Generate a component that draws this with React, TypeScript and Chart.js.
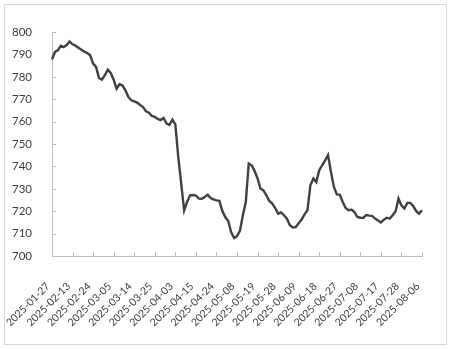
import React, { useEffect, useRef } from "react";
import { Chart, registerables } from "chart.js";

Chart.register(...registerables);

// Trading-day categories (x axis)
const dates: string[] = [
  "2025-01-27", "2025-02-05", "2025-02-06", "2025-02-07", "2025-02-10", "2025-02-11", "2025-02-12",
  "2025-02-13", "2025-02-14", "2025-02-17", "2025-02-18", "2025-02-19", "2025-02-20", "2025-02-21",
  "2025-02-24", "2025-02-25", "2025-02-26", "2025-02-27", "2025-02-28", "2025-03-03", "2025-03-04",
  "2025-03-05", "2025-03-06", "2025-03-07", "2025-03-10", "2025-03-11", "2025-03-12", "2025-03-13",
  "2025-03-14", "2025-03-17", "2025-03-18", "2025-03-19", "2025-03-20", "2025-03-21", "2025-03-24",
  "2025-03-25", "2025-03-26", "2025-03-27", "2025-03-28", "2025-03-31", "2025-04-01", "2025-04-02",
  "2025-04-03", "2025-04-07", "2025-04-08", "2025-04-09", "2025-04-10", "2025-04-11", "2025-04-14",
  "2025-04-15", "2025-04-16", "2025-04-17", "2025-04-18", "2025-04-21", "2025-04-22", "2025-04-23",
  "2025-04-24", "2025-04-25", "2025-04-28", "2025-04-29", "2025-04-30", "2025-05-06", "2025-05-07",
  "2025-05-08", "2025-05-09", "2025-05-12", "2025-05-13", "2025-05-14", "2025-05-15", "2025-05-16",
  "2025-05-19", "2025-05-20", "2025-05-21", "2025-05-22", "2025-05-23", "2025-05-26", "2025-05-27",
  "2025-05-28", "2025-05-29", "2025-05-30", "2025-06-03", "2025-06-04", "2025-06-05", "2025-06-06",
  "2025-06-09", "2025-06-10", "2025-06-11", "2025-06-12", "2025-06-13", "2025-06-16", "2025-06-17",
  "2025-06-18", "2025-06-19", "2025-06-20", "2025-06-23", "2025-06-24", "2025-06-25", "2025-06-26",
  "2025-06-27", "2025-06-30", "2025-07-01", "2025-07-02", "2025-07-03", "2025-07-04", "2025-07-07",
  "2025-07-08", "2025-07-09", "2025-07-10", "2025-07-11", "2025-07-14", "2025-07-15", "2025-07-16",
  "2025-07-17", "2025-07-18", "2025-07-21", "2025-07-22", "2025-07-23", "2025-07-24", "2025-07-25",
  "2025-07-28", "2025-07-29", "2025-07-30", "2025-07-31", "2025-08-01", "2025-08-04", "2025-08-05",
  "2025-08-06",
];

// Series values
const values: number[] = [
  787.8, 791.1, 791.8, 793.9, 793.3, 794.2, 795.8,
  794.5, 793.9, 793.0, 792.1, 791.2, 790.6, 789.6,
  785.9, 784.4, 779.5, 778.7, 780.7, 783.2, 781.7,
  778.7, 774.7, 776.7, 776.1, 774.0, 771.0, 769.5,
  769.0, 768.5, 767.4, 766.5, 764.6, 764.0, 762.5,
  762.1, 761.2, 760.7, 761.6, 759.1, 758.5, 760.9,
  758.8, 744.2, 732.3, 720.4, 724.1, 727.1, 727.2,
  727.0, 725.6, 725.5, 726.3, 727.4, 725.9, 725.3,
  724.8, 724.6, 720.1, 717.4, 715.6, 710.7, 708.0,
  708.9, 711.2, 718.2, 724.1, 741.3, 740.5, 737.9,
  734.6, 730.1, 729.3, 727.1, 724.6, 723.4, 721.4,
  718.9, 719.5, 718.2, 716.7, 713.7, 712.7, 712.9,
  714.6, 716.3, 718.6, 720.4, 731.6, 734.6, 733.0,
  738.3, 740.5, 742.7, 745.1, 737.5, 730.8, 727.5,
  727.4, 724.1, 721.4, 720.4, 720.7, 719.6, 717.4,
  717.1, 717.0, 718.3, 718.0, 717.9, 716.7, 715.9,
  715.0, 716.2, 717.1, 716.7, 718.2, 720.0, 725.6,
  722.6, 721.2, 723.7, 723.7, 722.3, 720.1, 718.9,
  720.4,
];

// Axis settings
const yMin = 700;
const yMax = 800;
const yStep = 10;
const labelEvery = 7;

const FONT = "Lato, 'Liberation Sans', sans-serif";
const TEXT = "#404040";
const AXIS = "#bfbfbf";

const insideTicks = {
  id: "insideTicks",
  beforeDatasetsDraw(chart: any) {
    const { ctx, chartArea, scales } = chart;
    const x = scales.x;
    const y = scales.y;
    ctx.save();
    ctx.strokeStyle = AXIS;
    ctx.lineWidth = 1;
    ctx.beginPath();
    y.ticks.forEach((t: any) => {
      const py = Math.round(y.getPixelForValue(t.value)) + 0.5;
      ctx.moveTo(chartArea.left, py);
      ctx.lineTo(chartArea.left + 4, py);
    });
    for (let i = 0; i < dates.length; i += labelEvery) {
      const px = Math.round(x.getPixelForValue(i)) + 0.5;
      ctx.moveTo(px, chartArea.bottom);
      ctx.lineTo(px, chartArea.bottom - 4);
    }
    ctx.stroke();
    ctx.restore();
  },
};

export default function App() {
  const canvasRef = useRef<HTMLCanvasElement | null>(null);

  useEffect(() => {
    if (!canvasRef.current) return;
    const chart = new Chart(canvasRef.current, {
      type: "line",
      data: {
        labels: dates,
        datasets: [
          {
            data: values,
            borderColor: "#404040",
            borderWidth: 2.4,
            pointRadius: 0,
            pointHoverRadius: 0,
            tension: 0,
            fill: false,
          },
        ],
      },
      options: {
        animation: false,
        responsive: false,
        maintainAspectRatio: false,
        layout: { padding: { left: 0, top: 32, right: 28, bottom: 0 } },
        plugins: {
          legend: { display: false },
          tooltip: { enabled: false },
        },
        scales: {
          x: {
            type: "category",
            offset: false,
            grid: { display: false },
            border: { display: true, color: AXIS, width: 1 },
            ticks: {
              autoSkip: false,
              minRotation: 45,
              maxRotation: 45,
              padding: 16,
              labelOffset: -4,
              color: TEXT,
              font: { family: FONT, size: 10.5 },
              callback: (_v: any, idx: number) => (idx % labelEvery === 0 ? dates[idx] : null),
            },
            afterFit: (scale: any) => {
              scale.height = 93;
              scale.paddingLeft = 0;
              scale.paddingRight = 0;
            },
          },
          y: {
            min: yMin,
            max: yMax,
            grid: { display: false },
            border: { display: true, color: AXIS, width: 1 },
            ticks: {
              stepSize: yStep,
              padding: 12,
              color: TEXT,
              font: { family: FONT, size: 11.5 },
            },
            afterFit: (scale: any) => {
              scale.width = 52;
            },
          },
        },
      },
      plugins: [insideTicks],
    });
    return () => chart.destroy();
  }, []);

  return (
    <div
      style={{
        position: "fixed",
        left: 0,
        top: 0,
        width: 450,
        height: 349,
        background: "#ffffff",
      }}
    >
      <canvas ref={canvasRef} width={450} height={349} style={{ display: "block", width: 450, height: 349 }} />
      <div
        style={{
          position: "absolute",
          left: 4,
          top: 4,
          width: 443,
          height: 341,
          boxSizing: "border-box",
          border: "1px solid #d9d9d9",
          pointerEvents: "none",
        }}
      />
    </div>
  );
}
